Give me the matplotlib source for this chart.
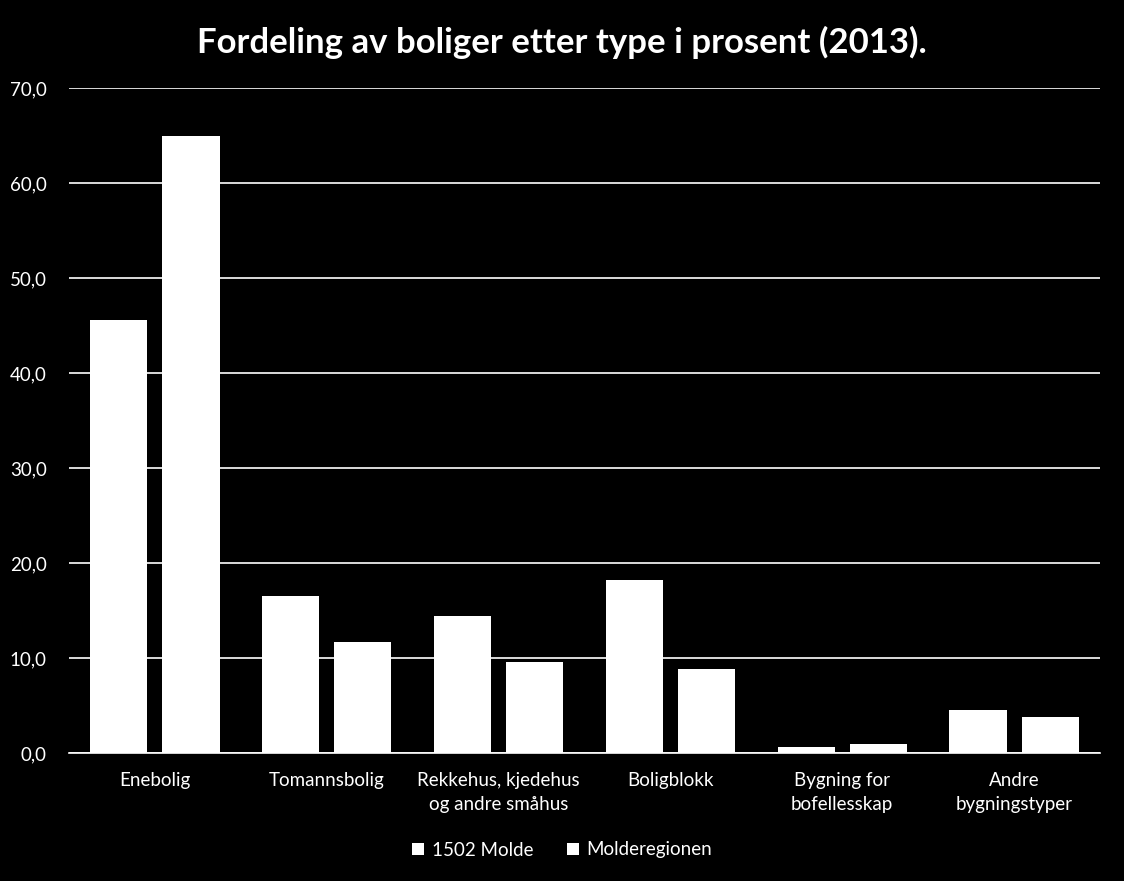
import numpy as np
import matplotlib
matplotlib.use("Agg")
import matplotlib.pyplot as plt

plt.rcParams["font.family"] = ["Lato", "DejaVu Sans"]

# data
categories = ["Enebolig", "Tomannsbolig", "Rekkehus, kjedehus\nog andre småhus",
              "Boligblokk", "Bygning for\nbofellesskap", "Andre\nbygningstyper"]
molde = [45.6, 16.5, 14.4, 18.2, 0.6, 4.5]
region = [65.0, 11.7, 9.6, 8.8, 1.0, 3.8]
series_names = ["1502 Molde", "Molderegionen"]
yticks = np.arange(0, 71, 10)

fig = plt.figure(figsize=(11.24, 8.81), dpi=100, facecolor="black")
ax = fig.add_axes([69 / 1124, 1 - 753 / 881, (1100 - 69) / 1124, (753 - 88) / 881])
ax.set_facecolor("black")

x = np.arange(len(categories))
w = 0.332
ax.bar(x - 0.21, molde, w, color="white", label=series_names[0], zorder=3)
ax.bar(x + 0.21, region, w, color="white", label=series_names[1], zorder=3)

ax.set_xlim(-0.5, len(categories) - 0.5)
ax.set_ylim(0, 70)
ax.set_yticks(yticks)
ax.set_yticklabels([f"{v:.1f}".replace(".", ",") for v in yticks])
ax.set_xticks(x)
ax.set_xticklabels(categories, linespacing=1.45)
ax.grid(axis="y", color="white", lw=1.2, zorder=0)
ax.tick_params(axis="y", length=0, pad=16, labelsize=13.5, labelcolor="white")
ax.tick_params(axis="x", length=0, pad=14, labelsize=13.5, labelcolor="white")
for s in ["top", "right", "left"]:
    ax.spines[s].set_visible(False)
ax.spines["bottom"].set_color("white")
ax.spines["bottom"].set_linewidth(1.2)

fig.text(0.5, 1 - 42 / 881, "Fordeling av boliger etter type i prosent (2013).",
         ha="center", va="center", color="white", fontsize=25, fontweight="bold")

leg = fig.legend(loc="center", bbox_to_anchor=(0.5, 1 - 850 / 881), ncol=2,
                 frameon=False, fontsize=13.5, labelcolor="white",
                 handlelength=0.65, handleheight=0.65, handletextpad=0.4,
                 columnspacing=1.8)

fig.savefig("out.png", dpi=100, facecolor="black")
